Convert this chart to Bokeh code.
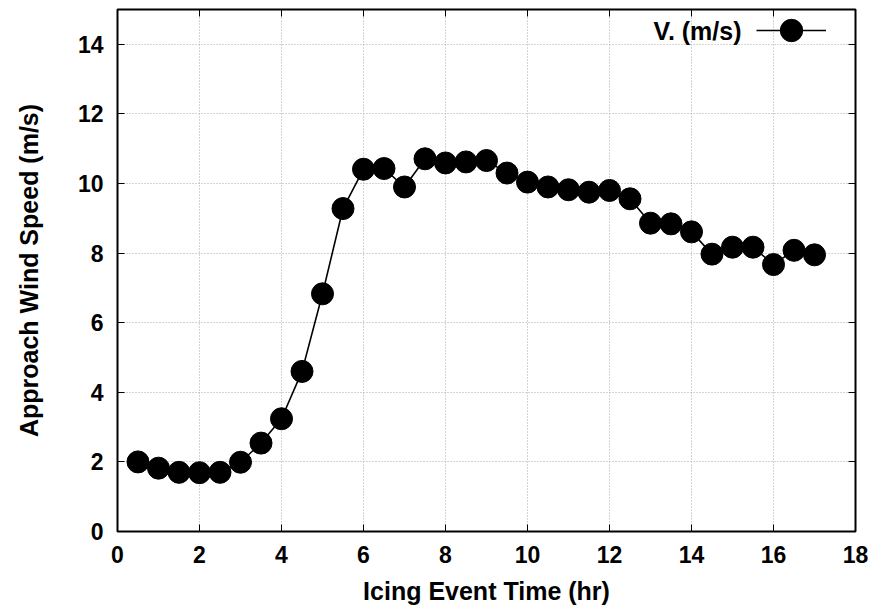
from bokeh.plotting import figure
from bokeh.models import (LinearAxis, Range1d, FixedTicker, CustomJSTickFormatter,
                          Legend, LegendItem, Label)
from bokeh.embed import file_html
from bokeh.resources import INLINE

# ---- data ----
time_hr = [0.5, 1.0, 1.5, 2.0, 2.5, 3.0, 3.5, 4.0, 4.5, 5.0, 5.5, 6.0, 6.5, 7.0,
           7.5, 8.0, 8.5, 9.0, 9.5, 10.0, 10.5, 11.0, 11.5, 12.0, 12.5, 13.0,
           13.5, 14.0, 14.5, 15.0, 15.5, 16.0, 16.5, 17.0]
wind_speed = [2.0, 1.82, 1.70, 1.69, 1.70, 1.99, 2.54, 3.24, 4.60, 6.83, 9.28,
              10.41, 10.43, 9.90, 10.71, 10.59, 10.62, 10.66, 10.30, 10.04, 9.90,
              9.82, 9.75, 9.80, 9.56, 8.86, 8.84, 8.61, 7.97, 8.17, 8.17, 7.67,
              8.08, 7.95]
x_ticks = [0, 2, 4, 6, 8, 10, 12, 14, 16, 18]
y_ticks = [0, 2, 4, 6, 8, 10, 12, 14]
series_label = "V. (m/s)"
x_title = "Icing Event Time (hr)"
y_title = "Approach Wind Speed (m/s)"

FONT = "Liberation Sans"

p = figure(width=886, height=610, output_backend="svg", toolbar_location=None,
           x_range=Range1d(0, 18), y_range=Range1d(0, 15),
           min_border_left=117, min_border_right=31, min_border_top=9,
           min_border_bottom=79)
p.background_fill_color = "white"
p.border_fill_color = "white"
p.outline_line_color = "black"
p.outline_line_width = 2

# main axes
for ax in (p.xaxis[0], p.yaxis[0]):
    ax.major_label_text_font = FONT
    ax.major_label_text_font_style = "bold"
    ax.major_label_text_font_size = "23px"
    ax.major_label_text_color = "black"
    ax.axis_label_text_font = FONT
    ax.axis_label_text_font_style = "bold"
    ax.axis_label_text_font_size = "25px"
    ax.axis_label_text_color = "black"
    ax.major_tick_in = 7
    ax.major_tick_out = 0
    ax.minor_tick_in = 0
    ax.minor_tick_out = 0
    ax.major_tick_line_color = "black"
    ax.axis_line_color = None
p.xaxis[0].ticker = FixedTicker(ticks=x_ticks)
p.yaxis[0].ticker = FixedTicker(ticks=y_ticks)
p.xaxis[0].axis_label = x_title
p.yaxis[0].axis_label = y_title
p.xaxis[0].major_label_standoff = 14
p.xaxis[0].axis_label_standoff = 11
p.yaxis[0].major_label_standoff = 14
p.yaxis[0].axis_label_standoff = 32

# mirrored ticks on top and right
blank = CustomJSTickFormatter(code="return ''")
top = LinearAxis(ticker=FixedTicker(ticks=x_ticks), formatter=blank,
                 major_tick_in=7, major_tick_out=0, minor_tick_in=0, minor_tick_out=0,
                 axis_line_color=None, major_label_standoff=0,
                 major_label_text_font_size="0px")
right = LinearAxis(ticker=FixedTicker(ticks=y_ticks), formatter=blank,
                   major_tick_in=7, major_tick_out=0, minor_tick_in=0, minor_tick_out=0,
                   axis_line_color=None, major_label_standoff=0,
                   major_label_text_font_size="0px")
p.add_layout(top, "above")
p.add_layout(right, "right")

# grid
for g in (p.xgrid[0], p.ygrid[0]):
    g.grid_line_color = "#a8a8a8"
    g.grid_line_dash = "1 2"
    g.grid_line_width = 1
p.xgrid[0].ticker = FixedTicker(ticks=x_ticks)
p.ygrid[0].ticker = FixedTicker(ticks=y_ticks)

line_r = p.line(time_hr, wind_speed, line_color="black", line_width=1.6)
sc_r = p.scatter(time_hr, wind_speed, size=22, fill_color="black", line_color="black")

# legend: label on the left, sample on the right
legend = Legend(items=[LegendItem(label="", renderers=[line_r, sc_r])],
                location=(639, 473), glyph_width=70, glyph_height=56,
                label_width=0, label_standoff=0, padding=0, margin=0,
                border_line_color=None, background_fill_alpha=0)
p.add_layout(legend)
p.add_layout(Label(x=624, y=501, x_units="screen", y_units="screen",
                   text=series_label, text_align="right", text_baseline="middle",
                   text_font=FONT, text_font_style="bold", text_font_size="25px",
                   text_color="black"))

open("out.html", "w").write(file_html(p, INLINE))
